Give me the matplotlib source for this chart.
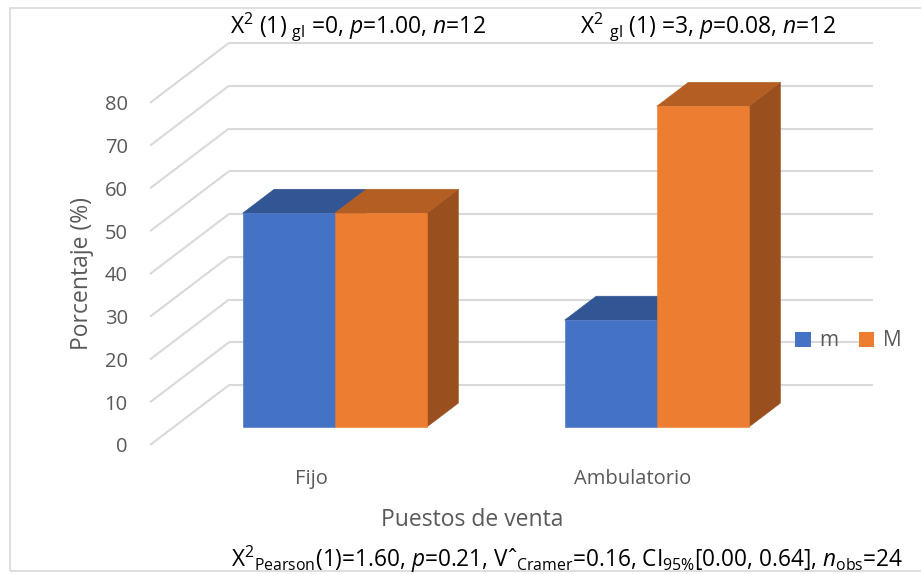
import matplotlib
matplotlib.use("Agg")
import matplotlib.pyplot as plt
from matplotlib.patches import Polygon, Patch, Rectangle

# ---- data ----
categories = ["Fijo", "Ambulatorio"]
series_names = ["m", "M"]
m_values = [50, 25]
M_values = [50, 75]
y_ticks = [0, 10, 20, 30, 40, 50, 60, 70, 80]
y_label = "Porcentaje (%)"
x_label = "Puestos de venta"
test_labels = [
    r"X$^{2}$ (1) $_{\mathrm{gl}}$ =0, $\mathit{p}$=1.00, $\mathit{n}$=12",
    r"X$^{2}$ $_{\mathrm{gl}}$ (1) =3, $\mathit{p}$=0.08, $\mathit{n}$=12",
]
summary_label = (r"X$^{2}$$_{\mathrm{Pearson}}$(1)=1.60, $\mathit{p}$=0.21, "
                 r"Vˆ$_{\mathrm{Cramer}}$=0.16, CI$_{95\%}$[0.00, 0.64], "
                 r"$\mathit{n}$$_{\mathrm{obs}}$=24")

# ---- styling ----
FONT = "Open Sans"
plt.rcParams["font.family"] = [FONT, "DejaVu Sans"]
plt.rcParams["mathtext.fontset"] = "custom"
plt.rcParams["mathtext.rm"] = FONT
plt.rcParams["mathtext.it"] = FONT + ":italic"
plt.rcParams["mathtext.bf"] = FONT + ":bold"

TEXT_GREY = "#595959"
GRID = "#d9d9d9"
# (front, top, side) shades for each series
shades = [
    ("#4472C4", "#325694", "#2B4C84"),
    ("#ED7D31", "#B45E24", "#9A4F1E"),
]

# oblique depth vector (category units, percent units) for full floor depth
DX, DY = 0.245, 14.0
BAR_D0, BAR_D1 = 0.3, 0.7   # bar depth span inside the floor
BAR_W = 0.286               # width of one bar in category units


def proj(x, y, d):
    return (x + d * DX, y + d * DY)


fig = plt.figure(figsize=(9.21, 5.74), dpi=100)
fig.patches.append(Rectangle((10 / 921, 3 / 574), 1.0, 563 / 574,
                             transform=fig.transFigure, fill=False,
                             edgecolor=GRID, linewidth=1.2))

ax = fig.add_axes([150 / 921, 129 / 574, 723 / 921, 402 / 574])
n_cat = len(categories)
ax.set_xlim(-0.5, n_cat - 0.5 + DX)
ax.set_ylim(0, max(y_ticks) + DY)
for s in ax.spines.values():
    s.set_visible(False)

# walls: back wall gridlines and side wall diagonals
for v in y_ticks:
    bx0, by = proj(-0.5, v, 1)
    bx1, _ = proj(n_cat - 0.5, v, 1)
    ax.plot([bx0, bx1], [by, by], color=GRID, lw=1.5, clip_on=False,
            solid_capstyle="butt", zorder=1)
    fx, fy = proj(-0.5, v, 0)
    ax.plot([fx, bx0], [fy, by], color=GRID, lw=1.5, clip_on=False,
            solid_capstyle="butt", zorder=1)

# 3D bars
series_values = [m_values, M_values]
z = 2
for i in range(n_cat):
    for j, vals in enumerate(series_values):
        v = vals[i]
        x0 = i - BAR_W + j * BAR_W
        x1 = x0 + BAR_W
        front_c, top_c, side_c = shades[j]
        side = [proj(x1, 0, BAR_D0), proj(x1, 0, BAR_D1),
                proj(x1, v, BAR_D1), proj(x1, v, BAR_D0)]
        top = [proj(x0, v, BAR_D0), proj(x1, v, BAR_D0),
               proj(x1, v, BAR_D1), proj(x0, v, BAR_D1)]
        front = [proj(x0, 0, BAR_D0), proj(x1, 0, BAR_D0),
                 proj(x1, v, BAR_D0), proj(x0, v, BAR_D0)]
        for poly, col in ((side, side_c), (top, top_c), (front, front_c)):
            ax.add_patch(Polygon(poly, closed=True, facecolor=col,
                                 edgecolor=col, linewidth=0.4, zorder=z,
                                 clip_on=False))
            z += 1

# axes text
ax.set_yticks(y_ticks)
ax.set_yticklabels([str(t) for t in y_ticks])
ax.set_xticks(range(n_cat))
ax.set_xticklabels(categories)
ax.tick_params(axis="y", length=0, pad=16, labelsize=14.5, labelcolor=TEXT_GREY)
ax.tick_params(axis="x", length=0, pad=17, labelsize=14.5, labelcolor=TEXT_GREY)

ax.text(-0.5 - 0.211, 40, y_label, rotation=90, ha="center", va="center",
        fontsize=16.5, color=TEXT_GREY)
ax.text(0.5, -17.5, x_label, ha="center", va="center",
        fontsize=16.5, color=TEXT_GREY, clip_on=False)

handles = [Patch(facecolor=shades[k][0], edgecolor="none") for k in range(2)]
fig.legend(handles, series_names, loc="center left",
           bbox_to_anchor=(795 / 921, 1 - 341 / 574), ncol=2, frameon=False,
           fontsize=15, handlelength=0.75, handleheight=0.75, handletextpad=0.4,
           columnspacing=1.0, borderpad=0, borderaxespad=0,
           labelcolor=TEXT_GREY)

# test statistics
fig.text(358 / 921, 1 - 27 / 574, test_labels[0], ha="center", va="center",
         fontsize=16.5, color="black")
fig.text(708 / 921, 1 - 27 / 574, test_labels[1], ha="center", va="center",
         fontsize=16.5, color="black")
fig.text(567 / 921, 1 - 559 / 574, summary_label, ha="center", va="center",
         fontsize=16.3, color="black")

fig.savefig("out.png", dpi=100, facecolor="white")
